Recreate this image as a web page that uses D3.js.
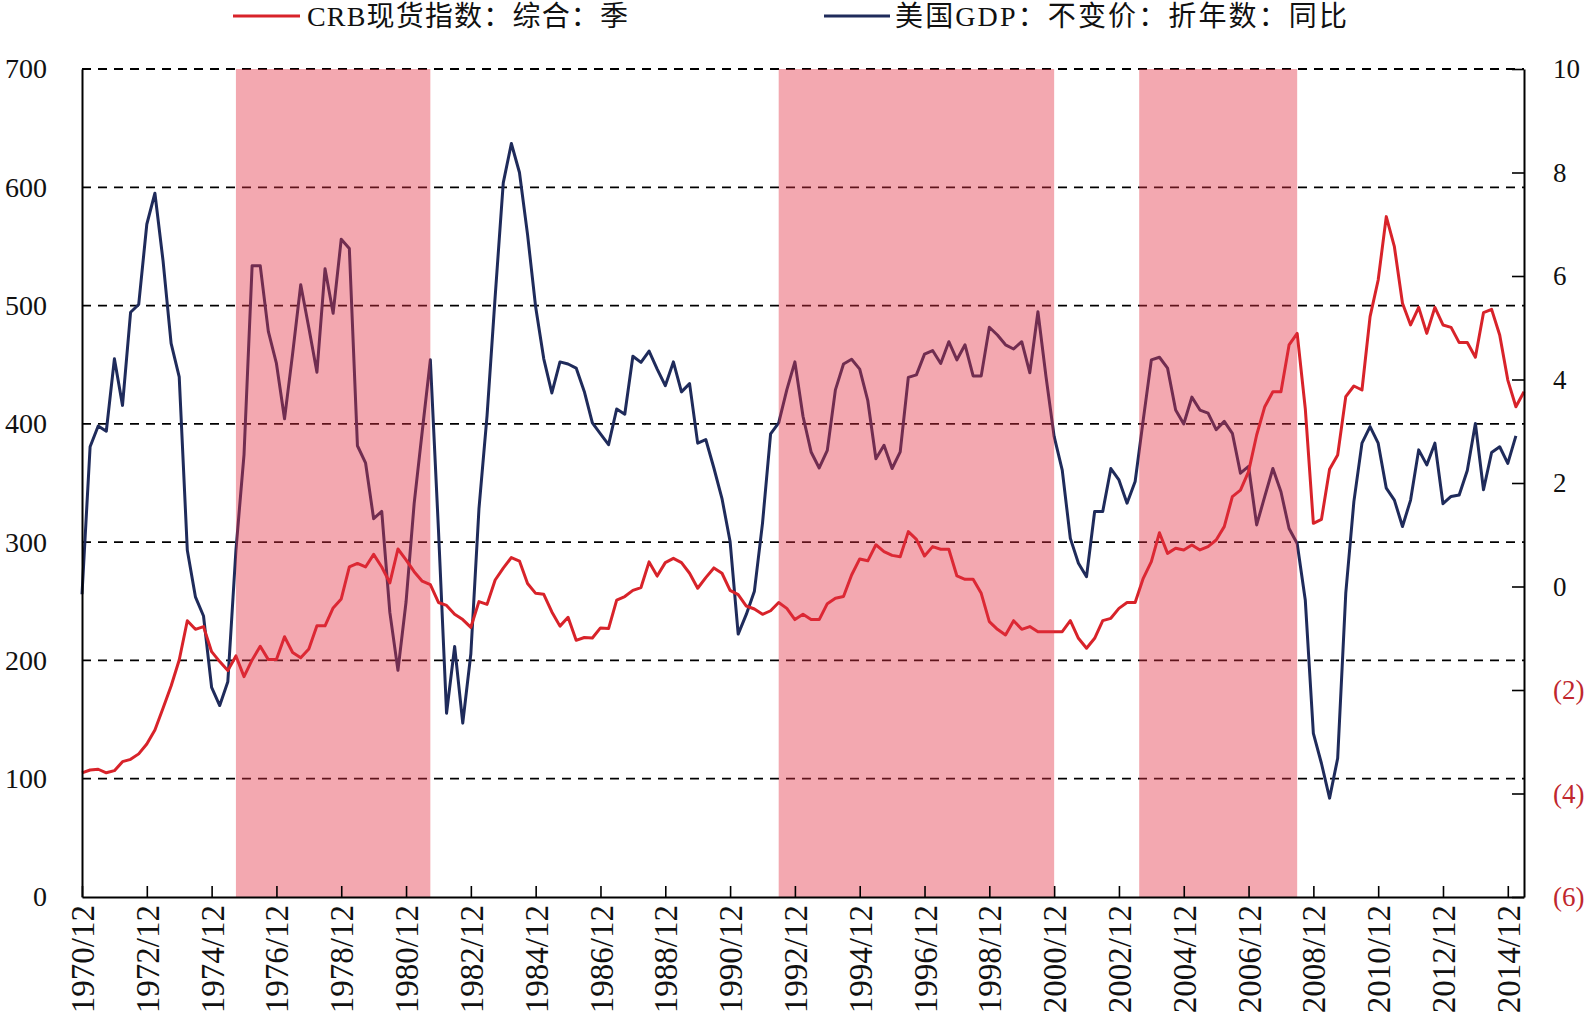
<!DOCTYPE html>
<html>
<head>
<meta charset="utf-8">
<script src="https://cdn.jsdelivr.net/npm/d3@7"></script>
<style>
  html, body { margin: 0; padding: 0; background: #fff; }
  svg { display: block; }
</style>
</head>
<body>
<div id="chart"></div>
<script>
// quarterly points, index 0 = 1970/12
const crbIndex = [
  105, 107.4, 108, 105, 106.8, 114.4, 116.4, 121, 129.4, 141.2,
  159.5, 178.4, 200.4, 233.6, 226.3, 228.6, 207.4, 199, 191.4, 203.8,
  186.3, 200.4, 212, 200.7, 200.7, 220, 206.7, 202.2, 209.7, 229.3,
  229.3, 244.4, 252, 279, 282, 279, 289.7, 279, 265.6, 294.2,
  285, 275, 267, 264, 249, 246.5, 239, 234.5, 228, 249.7,
  247.4, 268, 278, 287, 284, 265, 256.7, 255.9, 241, 229,
  236.5, 217, 219.4, 219, 227.5, 226.9, 251, 254, 259.2, 261.6,
  283.3, 271.3, 282.7, 286.3, 282.7, 273.7, 261, 270, 278.2, 273.7,
  259.2, 255.6, 246, 243.5, 239, 242, 249, 244, 234.5, 239,
  234.5, 234.5, 248, 252.6, 254, 272.2, 285.8, 284.2, 297.8, 292,
  288.8, 287.7, 308.9, 302.4, 288.3, 296.2, 294, 294, 271.4, 268.6,
  268.6, 256.7, 232.8, 226.3, 221.5, 233.6, 226.3, 228.6, 224.3, 224.3,
  224.3, 224.3, 233.6, 218.7, 210.3, 218.7, 233.6, 235.6, 244, 248.9,
  248.9, 269.4, 283.5, 308, 290.5, 294.8, 293.4, 297.6, 293.4, 296.2,
  301.8, 313.1, 338.5, 344, 359.6, 390.6, 414.5, 427.2, 427.2, 466.7,
  476.5, 413, 315.9, 319.3, 361.6, 373.7, 423, 432, 428.6, 490.6,
  521.6, 575.2, 549.8, 501.9, 483.6, 498.5, 476.5, 498.5, 483.6, 481.6,
  468.7, 468.7, 456.3, 494, 496.8, 475.1, 437, 414.5, 427.2
];

const gdpYoY = [
  -0.15, 2.7, 3.1, 3.0, 4.4, 3.5, 5.3, 5.45, 7.0, 7.6,
  6.3, 4.7, 4.05, 0.7, -0.2, -0.57, -1.95, -2.3, -1.84, 0.7,
  2.55, 6.2, 6.2, 4.93, 4.31, 3.24, 4.5, 5.83, 5.0, 4.14,
  6.14, 5.28, 6.71, 6.53, 2.72, 2.39, 1.31, 1.45, -0.5, -1.62,
  -0.3, 1.6, 3.0, 4.38, 1.1, -2.45, -1.16, -2.64, -1.3, 1.5,
  3.3, 5.6, 7.8, 8.56, 8.0, 6.8, 5.4, 4.4, 3.74, 4.34,
  4.3, 4.22, 3.77, 3.16, 2.95, 2.74, 3.43, 3.33, 4.45, 4.33,
  4.55, 4.2, 3.88, 4.34, 3.76, 3.92, 2.77, 2.84, 2.29, 1.7,
  0.87, -0.92, -0.54, -0.09, 1.22, 2.95, 3.16, 3.8, 4.34, 3.29,
  2.6, 2.29, 2.63, 3.8, 4.3, 4.39, 4.2, 3.59, 2.47, 2.73,
  2.28, 2.6, 4.04, 4.09, 4.49, 4.56, 4.31, 4.73, 4.38, 4.67,
  4.07, 4.07, 5.01, 4.86, 4.67, 4.59, 4.73, 4.13, 5.31, 4.05,
  2.9, 2.25, 0.93, 0.45, 0.19, 1.45, 1.45, 2.28, 2.06, 1.61,
  2.03, 3.22, 4.38, 4.43, 4.22, 3.41, 3.14, 3.66, 3.41, 3.35,
  3.03, 3.19, 2.96, 2.19, 2.32, 1.19, 1.74, 2.28, 1.83, 1.12,
  0.83, -0.26, -2.84, -3.42, -4.09, -3.32, -0.13, 1.64, 2.77, 3.09,
  2.77, 1.9, 1.67, 1.16, 1.67, 2.64, 2.35, 2.77, 1.6, 1.74,
  1.77, 2.24, 3.15, 1.87, 2.59, 2.7, 2.38, 2.91
];

const tickLabels = [
  "1970/12", "1972/12", "1974/12", "1976/12", "1978/12", "1980/12",
  "1982/12", "1984/12", "1986/12", "1988/12", "1990/12", "1992/12",
  "1994/12", "1996/12", "1998/12", "2000/12", "2002/12", "2004/12",
  "2006/12", "2008/12", "2010/12", "2012/12", "2014/12"
];

const leftTicks = [0, 100, 200, 300, 400, 500, 600, 700];
const rightTicks = [-6, -4, -2, 0, 2, 4, 6, 8, 10];

// shaded periods, in quarter index
const shadeStart = [19, 86, 130.5];
const shadeEnd = [43, 120, 150];

const seriesNames = ["CRB现货指数：综合：季", "美国GDP：不变价：折年数：同比"];

const width = 1586;
const height = 1015;
const margin = { top: 69, right: 62, bottom: 118, left: 82 };
const red = "#d8232a";
const navy = "#1f2b5b";
const serif = "'Liberation Serif', 'Times New Roman', 'Noto Sans CJK SC', serif";

const svg = d3.select("#chart")
    .append("svg")
    .attr("width", width)
    .attr("height", height)
    .style("background", "#fff");

const x = d3.scaleLinear()
    .domain([0, 178])
    .range([margin.left, width - margin.right]);

const yL = d3.scaleLinear()
    .domain([0, 700])
    .range([height - margin.bottom, margin.top]);

const yR = d3.scaleLinear()
    .domain([-6, 10])
    .range([height - margin.bottom, margin.top]);

// dashed grid
svg.append("g")
    .selectAll("line")
    .data(leftTicks.filter(d => d > 0))
    .join("line")
    .attr("x1", margin.left)
    .attr("x2", width - margin.right)
    .attr("y1", d => yL(d))
    .attr("y2", d => yL(d))
    .attr("stroke", "#000")
    .attr("stroke-width", 1.8)
    .attr("stroke-dasharray", "9,7");

const lineCrb = d3.line()
    .x((d, i) => x(i))
    .y(d => yL(d));

const lineGdp = d3.line()
    .x((d, i) => x(i))
    .y(d => yR(d));

svg.append("path")
    .datum(gdpYoY)
    .attr("d", lineGdp)
    .attr("fill", "none")
    .attr("stroke", navy)
    .attr("stroke-width", 3)
    .attr("stroke-linejoin", "round");

svg.append("path")
    .datum(crbIndex)
    .attr("d", lineCrb)
    .attr("fill", "none")
    .attr("stroke", red)
    .attr("stroke-width", 3)
    .attr("stroke-linejoin", "round");

// translucent shading laid over the lines
svg.append("g")
    .selectAll("rect")
    .data(shadeStart.map((s, i) => [s, shadeEnd[i]]))
    .join("rect")
    .attr("x", d => x(d[0]))
    .attr("width", d => x(d[1]) - x(d[0]))
    .attr("y", margin.top)
    .attr("height", height - margin.bottom - margin.top)
    .attr("fill", "rgb(226,48,67)")
    .attr("fill-opacity", 0.42);

// axes
const axisBottom = svg.append("g")
    .attr("transform", `translate(0,${height - margin.bottom})`)
    .call(d3.axisBottom(x)
        .tickValues(tickLabels.map((d, i) => i * 8))
        .tickSizeInner(-11)
        .tickSizeOuter(0)
        .tickFormat((d, i) => tickLabels[i]));

axisBottom.select(".domain").attr("stroke-width", 2);
axisBottom.selectAll(".tick line").attr("stroke-width", 1.6);
axisBottom.selectAll(".tick text")
    .attr("font-family", serif)
    .attr("font-size", 33)
    .attr("fill", "#111")
    .attr("text-anchor", "end")
    .attr("transform", "translate(0,8) rotate(-90)")
    .attr("x", 0)
    .attr("y", 0)
    .attr("dy", "0.35em");

const axisLeft = svg.append("g")
    .attr("transform", `translate(${margin.left},0)`)
    .call(d3.axisLeft(yL)
        .tickValues(leftTicks)
        .tickSize(0)
        .tickPadding(35));

axisLeft.select(".domain").attr("stroke-width", 2);
axisLeft.selectAll(".tick text")
    .attr("font-family", serif)
    .attr("font-size", 28)
    .attr("fill", "#111");

const axisRight = svg.append("g")
    .attr("transform", `translate(${width - margin.right},0)`)
    .call(d3.axisRight(yR)
        .tickValues(rightTicks)
        .tickSizeInner(-12)
        .tickSizeOuter(0)
        .tickPadding(29)
        .tickFormat(d => d < 0 ? `(${-d})` : d));

axisRight.select(".domain").attr("stroke-width", 2);
axisRight.selectAll(".tick line").attr("stroke-width", 1.6);
axisRight.selectAll(".tick text")
    .attr("font-family", serif)
    .attr("font-size", 27)
    .attr("fill", d => d < 0 ? "#c0272d" : "#111");

// legend
const legend = svg.append("g");
const legendItems = [
    { name: seriesNames[0], color: red, x0: 233, x1: 300, tx: 307, len: 321 },
    { name: seriesNames[1], color: navy, x0: 824, x1: 890, tx: 895, len: 452 }
];

legend.selectAll("line")
    .data(legendItems)
    .join("line")
    .attr("x1", d => d.x0)
    .attr("x2", d => d.x1)
    .attr("y1", 16)
    .attr("y2", 16)
    .attr("stroke", d => d.color)
    .attr("stroke-width", 3);

legend.selectAll("text")
    .data(legendItems)
    .join("text")
    .attr("x", d => d.tx)
    .attr("y", 26)
    .attr("font-family", serif)
    .attr("font-size", 28)
    .attr("fill", "#111")
    .attr("textLength", d => d.len)
    .attr("lengthAdjust", "spacing")
    .text(d => d.name);
</script>
</body>
</html>
